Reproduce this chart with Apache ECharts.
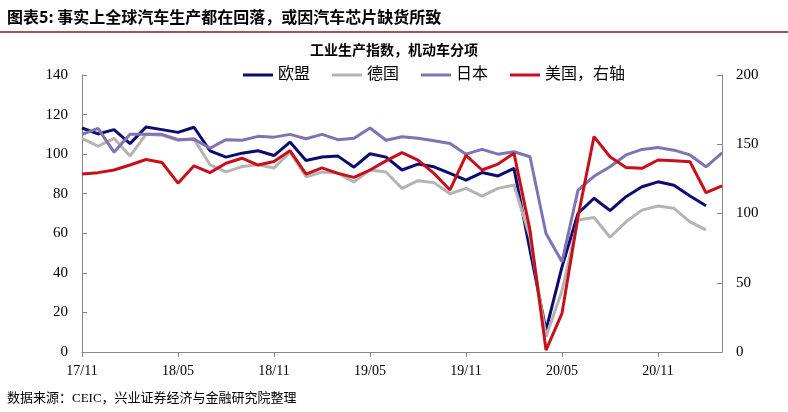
<!DOCTYPE html><html><head><meta charset="utf-8"><script src="https://cdn.jsdelivr.net/npm/echarts@6/dist/echarts.min.js"></script></head><body style="margin:0"><div id="c" style="width:788px;height:412px"></div><script>
const months=[];(function(){let y=17,m=11;for(let i=0;i<41;i++){months.push(y+'/'+String(m).padStart(2,'0'));m++;if(m>12){m=1;y++;}}})();
const eu=[113.2,110.2,112.4,105.3,113.7,112.4,111,113.6,101.7,98.5,100.5,101.7,99.3,106.1,96.8,98.6,99,93.4,100.2,98.5,92,95,93.6,90.3,86.9,90.7,89,92.8,51.5,11,43,70,77.7,71.5,78.5,83.5,86,84.3,78.8,73.9,null];
const de=[108,104,108,99,110,109.5,107,107.6,94.6,91,93.7,94.6,93,101,88.6,91,90.3,86,92,91,82.7,86.6,85.6,80,82.7,78.8,82.7,84.4,58,7.7,31,66.7,68,58,65.8,71.7,73.8,72.6,65.8,61.7,null];
const jp=[110,113,101,110,110,110,107.3,107.6,103,107.3,107,109,108.6,110,107.8,110,107.3,108,113.2,107,108.8,108,106.8,105.4,100,102.4,100,101.2,98.7,59.9,45.6,81.8,88.8,93.6,99.6,102.4,103.4,102,99.6,93.6,100.7];
const us=[128.5,129.5,131.4,135,139,136.8,121.9,134.4,129.5,136.3,139.9,135,137.5,145.4,128.5,133,129,126.1,131.4,138,144,138.6,129,117,142,131.4,135.7,143.5,88,1.4,27.9,97.7,155.5,141,133.3,132.6,138.6,138,137.4,115,120];
const names=['欧盟','德国','日本','美国，右轴'];
const colors=['#0c0c6e','#b4b4b4','#8073b3','#c8101a'];
const serif='"Liberation Serif","Noto Sans CJK SC"';
const ch=echarts.init(document.getElementById('c'));
const mk=(n,d,c,ax)=>({name:n,type:'line',data:d,yAxisIndex:ax,symbol:'none',lineStyle:{width:3,color:c},itemStyle:{color:c},z:ax?5:3});
ch.setOption({animation:false,
title:[{text:'图表5: 事实上全球汽车生产都在回落，或因汽车芯片缺货所致',left:2,top:4,textStyle:{fontFamily:'"Noto Sans CJK SC"',fontSize:16,fontWeight:'bold',color:'#000'}},
{text:'工业生产指数，机动车分项',left:'center',top:38,textStyle:{fontFamily:'"Noto Sans CJK SC"',fontSize:14,fontWeight:'bold',color:'#000'}},
{text:'数据来源：CEIC，兴业证券经济与金融研究院整理',left:2,bottom:2,textStyle:{fontFamily:serif,fontSize:13,fontWeight:'normal',color:'#000'}}],
graphic:[{type:'line',shape:{x1:0,y1:32,x2:788,y2:32},style:{stroke:'#8b1a1a',lineWidth:1.5}}],
legend:{top:62,left:238,itemWidth:30,itemHeight:3,itemGap:22,textStyle:{fontFamily:serif,fontSize:16,color:'#000'},data:names.map((n,i)=>({name:n,icon:'rect',itemStyle:{color:colors[i]}}))},
grid:{left:82,right:66,top:75,bottom:60},
xAxis:{type:'category',data:months,boundaryGap:false,axisLine:{lineStyle:{color:'#888'}},axisTick:{interval:5,lineStyle:{color:'#888'}},axisLabel:{interval:5,color:'#000',fontFamily:serif,fontSize:14,margin:12}},
yAxis:[{type:'value',min:0,max:140,interval:20,splitLine:{show:false},axisLine:{show:true,lineStyle:{color:'#888'}},axisTick:{show:true,inside:true,lineStyle:{color:'#888'}},axisLabel:{color:'#000',fontFamily:serif,fontSize:15,margin:14}},
{type:'value',min:0,max:200,interval:50,splitLine:{show:false},axisLine:{show:true,lineStyle:{color:'#888'}},axisTick:{show:true,inside:true,lineStyle:{color:'#888'}},axisLabel:{color:'#000',fontFamily:serif,fontSize:15,margin:14}}],
series:[mk(names[0],eu,colors[0],0),mk(names[1],de,colors[1],0),mk(names[2],jp,colors[2],0),mk(names[3],us,colors[3],1)]});
</script></body></html>
